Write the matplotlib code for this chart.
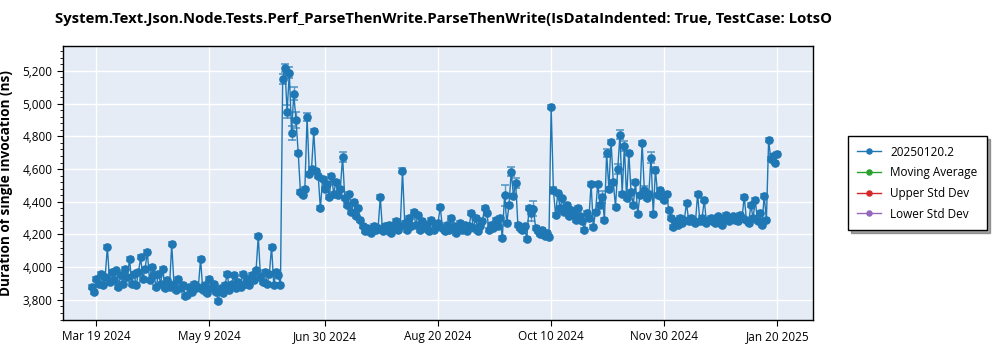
import numpy as np
import pandas as pd
import matplotlib
matplotlib.use("Agg")
import matplotlib.pyplot as plt
from matplotlib.ticker import MultipleLocator, FuncFormatter

plt.rcParams['font.family'] = ['Open Sans', 'DejaVu Sans']

title = "System.Text.Json.Node.Tests.Perf_ParseThenWrite.ParseThenWrite(IsDataIndented: True, TestCase: LotsO"
series_name = "20250120.2"

# one run per day, starting 2024-03-17
start_day = "2024-03-17"
durations = [
    3880, 3850, 3930, 3900, 3960, 3890, 3940, 4125, 3910, 3970,
    3920, 3980, 3880, 3950, 3900, 3990, 3940, 4050, 3900, 3960,
    3890, 3970, 4060, 3930, 3990, 4095, 3920, 4000, 3950, 3880,
    3960, 3900, 3990, 3870, 3920, 3880, 4140, 3900, 3860, 3930,
    3870, 3890, 3825, 3830, 3880, 3850, 3900, 3870, 3880, 4050,
    3860, 3890, 3840, 3930, 3870, 3900, 3850, 3795, 3870, 3840,
    3890, 3960, 3860, 3900, 3950, 3870, 3910, 3880, 3960, 3900,
    3930, 3890, 3950, 3920, 3980, 4190, 3940, 3910, 3970, 3900,
    3960, 4125, 3890, 3970, 3950, 3890, 5150, 5220, 4950, 5190,
    4820, 5060, 4900, 4700, 4460, 4440, 4480, 4920, 4570, 4600,
    4830, 4590, 4560, 4360, 4540, 4480, 4510, 4430, 4560, 4450,
    4520, 4440, 4480, 4675, 4420, 4380, 4450, 4340, 4400, 4310,
    4360, 4290, 4250, 4220, 4240, 4230, 4210, 4250, 4230, 4240,
    4430, 4220, 4250, 4230, 4260, 4210, 4240, 4280, 4230, 4250,
    4590, 4270, 4230, 4300, 4250, 4340, 4260, 4320, 4230, 4280,
    4240, 4260, 4220, 4290, 4230, 4250, 4270, 4370, 4240, 4220,
    4260, 4230, 4300, 4250, 4210, 4240, 4270, 4230, 4260, 4220,
    4250, 4330, 4240, 4300, 4220, 4250, 4280, 4360, 4330, 4230,
    4260, 4240, 4290, 4250, 4300, 4180, 4440, 4270, 4380, 4585,
    4436, 4515, 4260, 4240, 4230, 4250, 4170, 4360, 4330, 4357,
    4240, 4220, 4200, 4230, 4190, 4210, 4185, 4980, 4470, 4320,
    4455, 4360, 4420, 4340, 4380, 4310, 4350, 4330, 4290, 4360,
    4310, 4280, 4230, 4330, 4300, 4510, 4245, 4340, 4510, 4380,
    4430, 4290, 4700, 4480, 4766, 4520, 4370, 4600, 4810, 4450,
    4740, 4420, 4700, 4460, 4380, 4520, 4325, 4440, 4760, 4470,
    4420, 4450, 4670, 4325, 4595, 4440, 4470, 4430, 4410, 4450,
    4350, 4300, 4245, 4280, 4260, 4300, 4270, 4290, 4393, 4280,
    4300, 4290, 4270, 4450, 4280, 4300, 4410, 4270, 4290, 4300,
    4280, 4270, 4310, 4290, 4260, 4300, 4320, 4280, 4300, 4310,
    4290, 4280, 4320, 4300, 4430, 4290, 4270, 4380, 4300, 4410,
    4280, 4330, 4260, 4436, 4290, 4775, 4660, 4680, 4640, 4690,
]
base_err = 12
# runs with a wider spread
wide_err = {
    "2024-06-11": 30, "2024-06-12": 25, "2024-06-13": 40, "2024-06-14": 35,
    "2024-06-15": 45, "2024-06-16": 40, "2024-06-17": 50, "2024-06-22": 25,
    "2024-07-08": 30, "2024-08-04": 15, "2024-09-19": 65, "2024-09-22": 25,
    "2024-09-24": 30, "2024-10-01": 45, "2024-10-02": 45, "2024-10-11": 20,
    "2024-11-02": 35, "2024-11-04": 25, "2024-11-09": 30, "2024-11-10": 27,
    "2024-11-12": 30, "2024-11-21": 25, "2024-11-24": 35, "2024-11-26": 20,
}

dates = pd.date_range(start_day, periods=len(durations), freq="D")
yerr = np.array([wide_err.get(d.strftime("%Y-%m-%d"), base_err) for d in dates])

tick_dates = ["2024-03-19", "2024-05-09", "2024-06-30", "2024-08-20",
              "2024-10-10", "2024-11-30", "2025-01-20"]
tick_labels = ["Mar 19 2024", "May 9 2024", "Jun 30 2024", "Aug 20 2024",
               "Oct 10 2024", "Nov 30 2024", "Jan 20 2025"]

fig = plt.figure(figsize=(10, 3.5), dpi=100)
ax = fig.add_axes([0.063, 0.086, 0.75, 0.783])
ax.set_facecolor("#E5ECF6")
ax.grid(True, color="white", linewidth=1.0)
ax.set_axisbelow(True)

blue = "#1f77b4"
ax.errorbar(dates, durations, yerr=yerr, fmt="none", ecolor=blue,
            elinewidth=1, capsize=3, capthick=1.2, alpha=0.7, zorder=2)
ax.plot(dates, durations, color=blue, linewidth=1.0, marker="o",
        markersize=5.2, label=series_name, zorder=3)
ax.plot([], [], color="#2ca02c", linewidth=1, marker="o", markersize=5.2,
        label="Moving Average")
ax.plot([], [], color="#d62728", linewidth=1, marker="o", markersize=5.2,
        label="Upper Std Dev")
ax.plot([], [], color="#9467bd", linewidth=1, marker="o", markersize=5.2,
        label="Lower Std Dev")

ax.set_xlim(pd.Timestamp("2024-03-04"), pd.Timestamp("2025-02-05"))
ax.set_ylim(3678, 5353)
ax.set_xticks(pd.to_datetime(tick_dates))
ax.set_xticklabels(tick_labels)
ax.yaxis.set_major_locator(MultipleLocator(200))
ax.yaxis.set_minor_locator(MultipleLocator(40))
ax.yaxis.set_major_formatter(FuncFormatter(lambda v, p: f"{v:,.0f}"))
ax.tick_params(axis="both", labelsize=8.5, direction="out", length=4)
ax.tick_params(axis="y", which="minor", length=2)
for s in ax.spines.values():
    s.set_color("black")
    s.set_linewidth(1)

ax.set_ylabel("Duration of single invocation (ns)", fontsize=9.8,
              fontweight="bold", labelpad=7)
fig.text(0.055, 0.945, title, fontsize=10.7, fontweight="bold", ha="left",
         va="center")

leg = fig.legend(loc="upper left", bbox_to_anchor=(0.848, 0.611),
                 borderaxespad=0, fontsize=8.5, frameon=True, fancybox=False,
                 shadow=True, edgecolor="black", framealpha=1,
                 handlelength=2, markerscale=0.7, labelspacing=0.65,
                 borderpad=0.8)
leg.get_frame().set_linewidth(1)

fig.savefig("out.png", dpi=100)
